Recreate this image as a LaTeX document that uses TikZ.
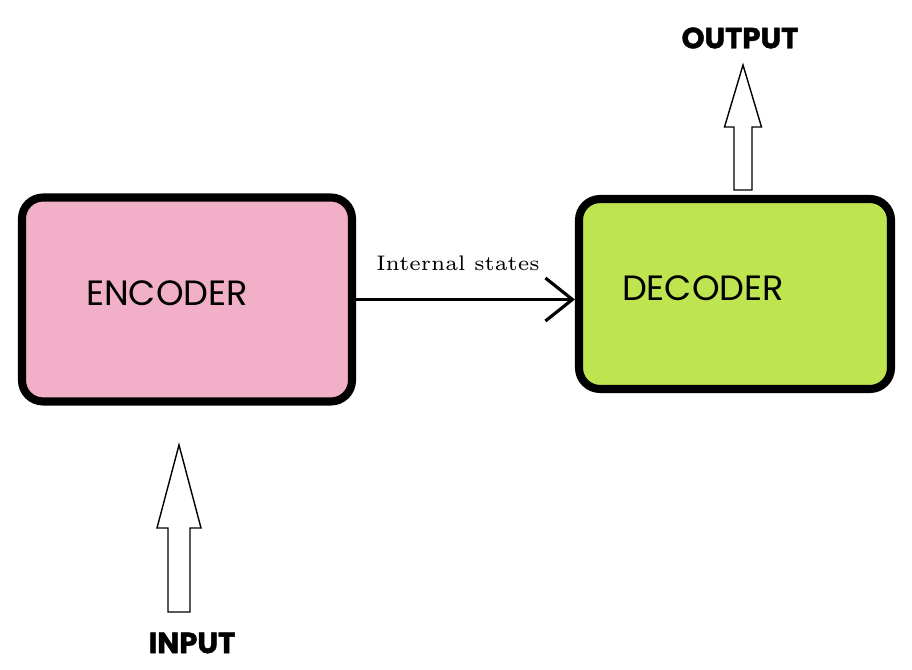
\documentclass[tikz,border=0pt]{standalone}
\usepackage{fontspec}
\usepackage{xcolor}
\usetikzlibrary{arrows.meta}
\newfontfamily\maofont{Poppins}[BoldFeatures={FakeBold=1.5}]
\definecolor{rosa}{RGB}{242,176,200}
\definecolor{verde}{RGB}{190,228,80}

\begin{document}
\begin{tikzpicture}[
	bloco/.style={draw, line width=2.3pt, rounded corners=6pt, inner sep=0pt},
	rotulo/.style={font=\maofont\fontsize{10}{12}\selectfont},
	titulo/.style={font=\maofont\bfseries\fontsize{8.3}{10}\selectfont},
	seta/.style={draw, line width=0.4pt, fill=white}]
	\useasboundingbox (0,0) rectangle (9.12,6.70);
	\draw
	node[bloco, fill=rosa, minimum width=3.30cm, minimum height=2.04cm] at (1.87,3.705) (enc) {}
	node[bloco, fill=verde, minimum width=3.12cm, minimum height=1.90cm] at (7.35,3.76) (dec) {}
	node[rotulo] at (1.67,3.77) (enctxt) {ENCODER}
	node[rotulo] at (7.03,3.82) (dectxt) {DECODER}
	node[font=\fontsize{6}{7}\selectfont] at (4.58,4.07) (est) {Internal states}
	node[titulo] at (7.40,6.32) (saida) {OUTPUT}
	node[titulo] at (1.92,0.27) (entrada) {INPUT}
	[-{Straight Barb[length=2.7mm,width=4.3mm]}, line width=0.9pt] (enc.east) -- (enc.east -| dec.west);
	% setas de bloco
	\coordinate (outtip) at (7.43,6.05);
	\coordinate (intip) at (1.79,2.25);
	\draw[seta] (outtip) -- ++(0.185,-0.62) -- ++(-0.095,0) -- ++(0,-0.63) -- ++(-0.18,0) -- ++(0,0.63) -- ++(-0.095,0) -- cycle;
	\draw[seta] (intip) -- ++(0.22,-0.83) -- ++(-0.11,0) -- ++(0,-0.84) -- ++(-0.22,0) -- ++(0,0.84) -- ++(-0.11,0) -- cycle;
\end{tikzpicture}
\end{document}
